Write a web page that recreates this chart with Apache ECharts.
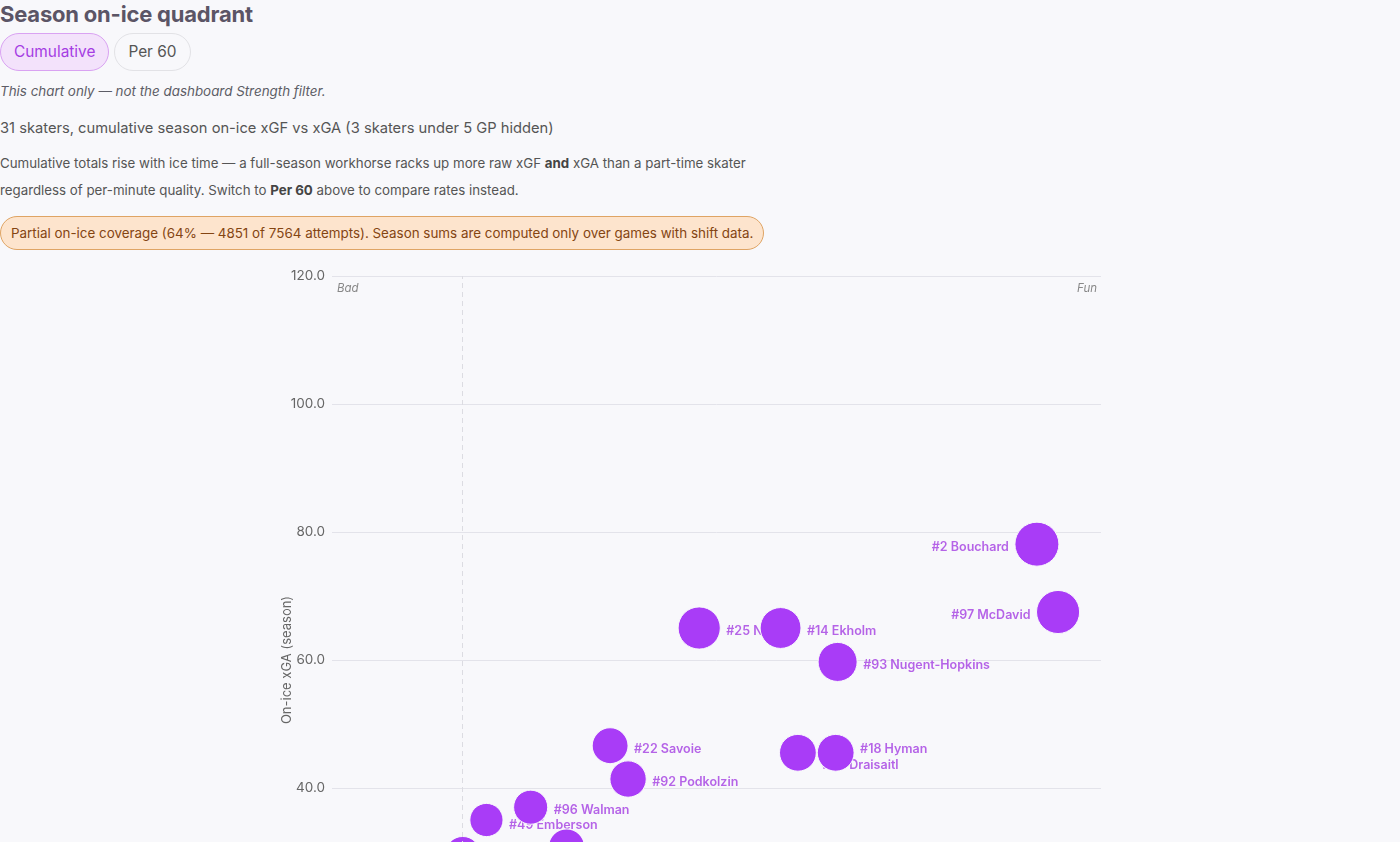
<!DOCTYPE html>
<html>
<head>
<meta charset="utf-8">
<script src="https://cdn.jsdelivr.net/npm/echarts@6/dist/echarts.min.js"></script>
<style>
  html, body { margin: 0; padding: 0; background: #f8f8fb; overflow: hidden; }
  body { width: 1400px; height: 842px; position: relative; font-family: Inter, "Noto Sans", sans-serif; color: #555; }
  h2 { margin: 0; font-size: 22px; line-height: 28px; font-weight: 700; color: #5b5566; letter-spacing: -0.2px; }
  .toggles { margin-top: 5px; height: 38px; display: flex; gap: 5px; }
  .pill { box-sizing: border-box; height: 38px; line-height: 36px; padding: 0 13px; border-radius: 19px; font-size: 15.4px; border: 1px solid #e2e2e6; color: #555; background: #f8f8fb; }
  .pill.on { background: #f3e2fb; border-color: #d9a2f2; color: #a53de3; }
  .note { margin-top: 10px; font-size: 13.4px; line-height: 20px; font-style: italic; color: #5d5d66; }
  .sub { margin-top: 16px; font-size: 14.7px; line-height: 22px; color: #555; }
  .desc { margin-top: 11px; font-size: 13.3px; line-height: 27px; color: #555; }
  .desc b { color: #444; }
  .warn { position: absolute; top: 216px; left: 0; box-sizing: border-box; height: 34px; line-height: 32px; padding: 0 10px; border-radius: 17px; background: #fde4cd; border: 1px solid #dfa464; color: #844512; font-size: 13.4px; }
  #chart { position: absolute; top: 256px; left: 0; width: 1400px; height: 830px; }
</style>
</head>
<body>
  <h2>Season on-ice quadrant</h2>
  <div class="toggles"><div class="pill on">Cumulative</div><div class="pill">Per 60</div></div>
  <div class="note">This chart only — not the dashboard Strength filter.</div>
  <div class="sub">31 skaters, cumulative season on-ice xGF vs xGA (3 skaters under 5 GP hidden)</div>
  <div class="desc">Cumulative totals rise with ice time — a full-season workhorse racks up more raw xGF <b>and</b> xGA than a part-time skater<br>regardless of per-minute quality. Switch to <b>Per 60</b> above to compare rates instead.</div>
  <div class="warn">Partial on-ice coverage (64% — 4851 of 7564 attempts). Season sums are computed only over games with shift data.</div>
  <div id="chart"></div>

<script>
// skaters (only those visible in the view)
const players = ["#2 Bouchard", "#97 McDavid", "#25 Nurse", "#14 Ekholm", "#93 Nugent-Hopkins", "#22 Savoie",
  "#92 Podkolzin", "#29 Draisaitl", "#18 Hyman", "#96 Walman", "#49 Emberson", "#27 Kulak", "#19 Mangiapane"];
const xgf = [110.0, 113.3, 57.3, 70.0, 78.9, 43.4, 46.2, 72.7, 78.6, 31.0, 24.1, 36.6, 20.4];
const xga = [78.1, 67.5, 65.0, 65.0, 59.7, 46.6, 41.4, 45.5, 45.5, 37.0, 35.0, 30.8, 29.6];
const gamesPlayed = [80, 78, 76, 73, 69, 62, 63, 64, 64, 58, 56, 62, 62];
const yTicks = [0, 20, 40, 60, 80, 100, 120];
// quadrant reference lines
const xgfRef = 20.4;
const xgaRef = 27.0;

const purple = "#a93cf7";
const labelPurple = "#a43de2";
// labels pushed apart where they collide
const labelNudge = { "#29 Draisaitl": 12, "#18 Hyman": -4, "#49 Emberson": 5 };

const points = players.map((name, i) => ({
  name: name,
  value: [xgf[i], xga[i], gamesPlayed[i]],
  label: {
    position: xgf[i] > 100 ? "left" : "right",
    offset: [0, labelNudge[name] !== undefined ? labelNudge[name] : 3.5]
  }
}));
const bubbleSize = v => 8 + v[2] * 0.45;

const chart = echarts.init(document.getElementById("chart"));
chart.setOption({
  animation: false,
  textStyle: { fontFamily: "Inter, sans-serif" },
  grid: { left: 332, right: 299, top: 20, bottom: 42 },
  xAxis: {
    type: "value", min: 0, max: 120, interval: 20,
    axisLine: { show: false }, axisTick: { show: false },
    splitLine: { show: false },
    axisLabel: { color: "#666", fontSize: 13.5, formatter: v => v.toFixed(1) }
  },
  yAxis: {
    type: "value", min: yTicks[0], max: yTicks[yTicks.length - 1], interval: 20,
    name: "On-ice xGA (season)", nameLocation: "middle", nameGap: 38, nameMoveOverlap: false,
    nameTextStyle: { color: "#666", fontSize: 13 },
    axisLine: { show: false }, axisTick: { show: false },
    splitLine: { lineStyle: { color: "#e3e3ea" } },
    axisLabel: { color: "#666", fontSize: 13.5, margin: 7, formatter: v => v.toFixed(1) }
  },
  series: [
    {
      // labels sit underneath the bubbles
      type: "scatter", z: 1,
      data: points,
      symbolSize: bubbleSize,
      itemStyle: { color: "rgba(0,0,0,0)" },
      label: {
        show: true, formatter: "{b}", distance: 6,
        color: labelPurple, fontSize: 12.5, fontWeight: 600
      },
      markLine: {
        silent: true, symbol: "none", label: { show: false },
        lineStyle: { color: "#dcdce2", type: [5, 4], width: 1 },
        data: [{ xAxis: xgfRef }, { yAxis: xgaRef }]
      }
    },
    {
      type: "scatter", z: 2,
      data: points,
      symbolSize: bubbleSize,
      itemStyle: { color: purple, opacity: 1, borderColor: "#f8f8fb", borderWidth: 1 },
      label: { show: false }
    }
  ],
  graphic: [
    { type: "text", left: 337, top: 27, style: { text: "Bad", fill: "#888", font: "italic 11.5px Inter" } },
    { type: "text", right: 303, top: 27, style: { text: "Fun", fill: "#888", font: "italic 11.5px Inter" } }
  ]
});
</script>
</body>
</html>
